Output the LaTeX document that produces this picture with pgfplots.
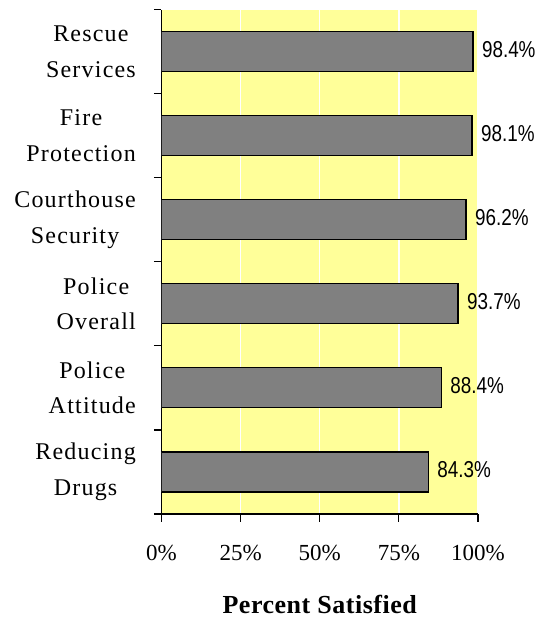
\documentclass[border=0pt]{standalone}
\usepackage{pgfplots}
\pgfplotsset{compat=1.18}
\usepackage{fontspec}
\setmainfont{Liberation Serif}
\newfontfamily\narrow[FakeStretch=0.82]{Liberation Sans}
\newfontfamily\spaced[LetterSpace=5]{Liberation Serif}
\newfontfamily\spacedb[LetterSpace=2]{Liberation Serif}
\definecolor{bg}{RGB}{255,255,153}
\definecolor{barfill}{RGB}{128,128,128}
\begin{document}
\begin{tikzpicture}
\begin{axis}[
  at={(0,0)}, anchor=south west,
  scale only axis, width=316.5pt, height=504.5pt,
  xbar, bar width=40pt,
  xmin=0, xmax=100, ymin=0.5, ymax=6.5,
  axis x line*=bottom, axis y line*=left,
  axis line style={-, line width=1.2pt},
  axis background/.style={fill=bg},
  /pgf/number format/assume math mode=true,
  xtick={0,25,50,75,100},
  xticklabels={0\%,25\%,50\%,75\%,100\%},
  xticklabel style={font=\fontsize{23}{27}\selectfont, anchor=base, inner sep=0pt, yshift=-39pt},
  xmajorgrids, grid style={white, line width=1.5pt},
  tick align=outside, major tick length=7.5pt,
  tick style={black, line width=1.2pt},
  ytick={0.5,1.5,2.5,3.5,4.5,5.5,6.5}, yticklabels={},
  extra y ticks={1,2,3,4,5,6},
  extra y tick labels={{Reducing\\Drugs},{Police\\Attitude},{Police\\Overall},{Courthouse\\Security},{Fire\\Protection},{Rescue\\Services}},
  extra y tick style={tick style={draw=none}},
  yticklabel style={font=\spaced\fontsize{24}{35.5}\selectfont, align=center, inner sep=0pt, anchor=east, xshift=-18pt},
  point meta=x,
  nodes near coords={\pgfmathprintnumber[fixed,precision=1,fixed zerofill]{\pgfplotspointmeta}\%},
  nodes near coords style={font=\narrow\fontsize{23}{23}\selectfont, inner sep=0pt, anchor=west, xshift=8.5pt, yshift=2pt, black},
  xlabel={Percent Satisfied},
  xlabel style={at={(axis description cs:0.5,0)}, anchor=base, inner sep=0pt, yshift=-99.5pt, font=\spacedb\fontsize{26}{30}\selectfont\bfseries},
]
\addplot[fill=barfill, draw=black, line width=1.2pt] coordinates {
  (84.3,1) (88.4,2) (93.7,3) (96.2,4) (98.1,5) (98.4,6)
};
\end{axis}
\pgfresetboundingbox
\path[use as bounding box] (-161.5pt,-105pt) rectangle (375.5pt,514pt);
\end{tikzpicture}
\end{document}
